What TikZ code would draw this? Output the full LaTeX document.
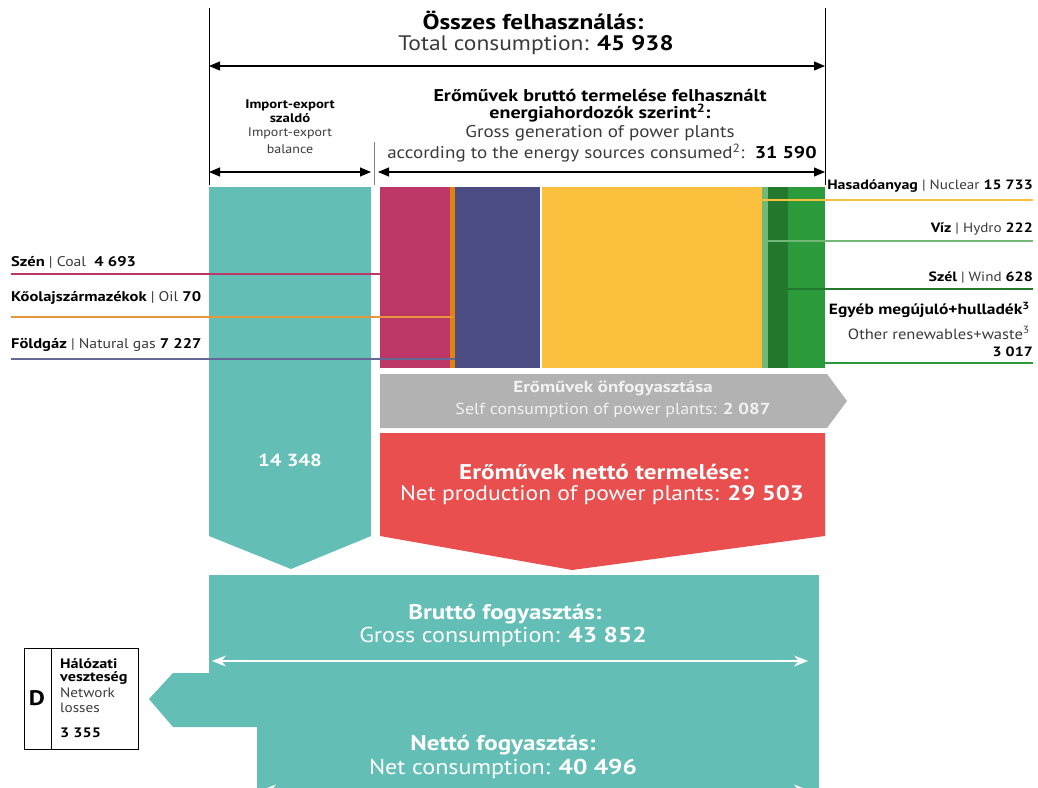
\documentclass[tikz,border=0pt]{standalone}
\usepackage{fontspec}
\setmainfont{PT Sans}[FakeStretch=1.12, BoldFeatures={FakeStretch=1.18}]
\usetikzlibrary{arrows.meta}
\definecolor{cTeal}{HTML}{63BEB5}
\definecolor{cCoal}{HTML}{BC3766}
\definecolor{cOil}{HTML}{E0820F}
\definecolor{cOilL}{HTML}{E8963A}
\definecolor{cGas}{HTML}{4B4C82}
\definecolor{cNuc}{HTML}{FAC03E}
\definecolor{cHyd}{HTML}{74B877}
\definecolor{cWind}{HTML}{23782E}
\definecolor{cOth}{HTML}{2B9A3B}
\definecolor{cGray}{HTML}{B2B2B2}
\definecolor{cRed}{HTML}{E94F4F}
\definecolor{cTxt}{HTML}{3A3A3A}
\definecolor{cSelf}{HTML}{F2F2F2}
\newcommand\myB[1]{\textbf{\color{black}#1}}
\newcommand\fs[1]{\fontsize{#1}{#1}\selectfont}
\tikzset{
  txt/.style={inner sep=0pt, text=cTxt},
  wtxt/.style={inner sep=0pt, text=white},
  dimarrow/.style={line width=1.1pt, {Triangle[length=11pt,width=9pt]}-{Triangle[length=11pt,width=9pt]}},
  warrow/.style={white, line width=1.2pt, {Stealth[length=14pt,width=11pt]}-{Stealth[length=14pt,width=11pt]}},
  labline/.style={line width=2pt},
}
\begin{document}
\begin{tikzpicture}[x=1pt,y=-1pt]
\useasboundingbox (0,0) rectangle (1038,787);
\clip (0,0) rectangle (1038,787);

% ---- top dimension lines
\coordinate (tl) at (209,8); \coordinate (tlb) at (209,185);
\coordinate (tr) at (825,8); \coordinate (trb) at (825,185);
\draw[line width=0.9pt] (tl) -- (tlb);
\draw[line width=0.9pt] (tr) -- (trb);
\coordinate (totA) at (209,66); \coordinate (totB) at (825,66);
\draw[dimarrow] (totA) -- (totB);
\coordinate (ieA) at (209,172); \coordinate (ieB) at (371,172);
\draw[dimarrow] (ieA) -- (ieB);
\coordinate (ggA) at (378,172); \coordinate (ggB) at (825,172);
\draw[dimarrow] (ggA) -- (ggB);
\coordinate (sepT) at (374,142); \coordinate (sepB) at (374,185);
\draw[gray, line width=0.8pt] (sepT) -- (sepB);

\node[txt, text=black, font=\fs{21.5}\bfseries] (t1) at (533,20) {Összes felhasználás:};
\node[txt, font=\fs{21}] (t2) at (536,45) {Total consumption: \myB{45 938}};

\node[txt, text=black, font=\fs{12.5}\bfseries] (ie1) at (290,105) {Import-export};
\node[txt, text=black, font=\fs{12.5}\bfseries] (ie2) at (290,118) {szaldó};
\node[txt, font=\fs{12.5}] (ie3) at (290,133) {Import-export};
\node[txt, font=\fs{12.5}] (ie4) at (290,149) {balance};

\node[txt, text=black, font=\fs{17}\bfseries] (g1) at (600,95) {Erőművek bruttó termelése felhasznált};
\node[txt, text=black, font=\fs{17}\bfseries] (g2) at (600,113) {energiahordozók szerint\textsuperscript{2}:};
\node[txt, font=\fs{17}] (g3) at (600,133) {Gross generation of power plants};
\node[txt, font=\fs{17}] (g4) at (602,153) {according to the energy sources consumed\textsuperscript{2}:\ \ \myB{31 590}};

% ---- import-export column
\fill[cTeal] (209,187) -- (371,187) -- (371,536) -- (291,569) -- (209,536) -- cycle;
\node[wtxt, font=\fs{17.5}\bfseries] (ie) at (290,460) {14 348};

% ---- bar segments
\fill[cCoal] (380,187) rectangle (450,368);
\fill[cOil]  (450,187) rectangle (455,368);
\fill[cGas]  (455,187) rectangle (540,368);
\fill[cNuc]  (542,187) rectangle (762,368);
\fill[cHyd]  (762,187) rectangle (768,368);
\fill[cWind] (768,187) rectangle (788,368);
\fill[cOth]  (788,187) rectangle (825,368);

% ---- label lines
\coordinate (coalL) at (11,274);  \coordinate (coalR) at (380,274);
\coordinate (oilL) at (11,317);   \coordinate (oilR) at (453,317);
\coordinate (gasL) at (11,359);   \coordinate (gasR) at (455,359);
\draw[labline, cCoal] (coalL) -- (coalR);
\draw[labline, cOilL] (oilL) -- (oilR);
\draw[labline, cGas!85!white] (gasL) -- (gasR);
\coordinate (nucL) at (762,200);  \coordinate (nucR) at (1033,200);
\coordinate (hydL) at (762,241);  \coordinate (hydR) at (1033,241);
\coordinate (winL) at (788,289);  \coordinate (winR) at (1033,289);
\coordinate (othL) at (825,363);  \coordinate (othR) at (1033,363);
\draw[labline, cNuc] (nucL) -- (nucR);
\draw[labline, cHyd] (hydL) -- (hydR);
\draw[labline, cWind] (winL) -- (winR);
\draw[labline, cOth] (othL) -- (othR);

\node[txt, font=\fs{14}, anchor=west] (lcoal) at (11,262) {\myB{Szén} | Coal \ \myB{4 693}};
\node[txt, font=\fs{14}, anchor=west] (loil) at (11,298) {\myB{Kőolajszármazékok} | Oil \myB{70}};
\node[txt, font=\fs{14}, anchor=west] (lgas) at (11,345) {\myB{Földgáz} | Natural gas \myB{7 227}};

\node[txt, font=\fs{13.5}, anchor=east] (lnuc) at (1033,186) {\myB{Hasadóanyag} | Nuclear \myB{15 733}};
\node[txt, font=\fs{13.5}, anchor=east] (lhyd) at (1033,229) {\myB{Víz} | Hydro \myB{222}};
\node[txt, font=\fs{13.5}, anchor=east] (lwin) at (1033,278) {\myB{Szél} | Wind \myB{628}};
\node[txt, font=\fs{14.8}, anchor=east] (loth1) at (1030,310) {\myB{Egyéb megújuló+hulladék\textsuperscript{3}}};
\node[txt, font=\fs{14.8}, anchor=east] (loth2) at (1030,333) {Other renewables+waste\textsuperscript{3}};
\node[txt, font=\fs{13.5}, anchor=east] (loth3) at (1033,352) {\myB{3 017}};

% ---- self consumption arrow
\fill[cGray] (380,374) -- (827,374) -- (847,401) -- (827,428) -- (380,428) -- cycle;
\node[txt, text=cSelf, font=\fs{16}\bfseries] (sc1) at (613,388) {Erőművek önfogyasztása};
\node[txt, text=cSelf, font=\fs{16}] (sc2) at (613,410) {Self consumption of power plants: \textbf{2 087}};

% ---- net production arrow
\fill[cRed] (380,433) -- (825,433) -- (825,536) -- (572,570) -- (380,536) -- cycle;
\node[wtxt, font=\fs{21.3}\bfseries] (np1) at (604,472) {Erőművek nettó termelése:};
\node[wtxt, font=\fs{21}] (np2) at (602,495) {Net production of power plants: \textbf{29 503}};

% ---- consumption block
\fill[cTeal] (209,575) -- (819,575) -- (819,795) -- (257,795) -- (257,727) -- (173,727) -- (149,699) -- (173,673) -- (209,673) -- cycle;
\coordinate (gcA) at (212,661); \coordinate (gcB) at (808,661);
\draw[warrow] (gcA) -- (gcB);
\coordinate (ncA) at (262,790); \coordinate (ncB) at (808,790);
\draw[warrow] (ncA) -- (ncB);
\node[wtxt, font=\fs{21.2}\bfseries] (gc1) at (505,614) {Bruttó fogyasztás:};
\node[wtxt, font=\fs{21.5}] (gc2) at (503,637) {Gross consumption: \textbf{43 852}};
\node[wtxt, font=\fs{21.2}\bfseries] (nc1) at (503,745) {Nettó fogyasztás:};
\node[wtxt, font=\fs{21.5}] (nc2) at (503,769) {Net consumption: \textbf{40 496}};

% ---- network losses box
\draw[line width=0.9pt] (24,648) rectangle (138,749);
\coordinate (dT) at (51,648); \coordinate (dB) at (51,749);
\draw[line width=0.9pt] (dT) -- (dB);
\node[inner sep=0pt, font=\fs{21}\bfseries] (D) at (37,698) {D};
\node[inner sep=0pt, anchor=west, font=\fs{13.7}\bfseries] (nl1) at (60,664) {Hálózati};
\node[inner sep=0pt, anchor=west, font=\fs{13.7}\bfseries] (nl2) at (60,678) {veszteség};
\node[txt, anchor=west, font=\fs{13.6}] (nl3) at (60,693) {Network};
\node[txt, anchor=west, font=\fs{13.6}] (nl4) at (60,708) {losses};
\node[inner sep=0pt, anchor=west, font=\fs{13.7}\bfseries] (nl5) at (60,733) {3 355};
\end{tikzpicture}
\end{document}
